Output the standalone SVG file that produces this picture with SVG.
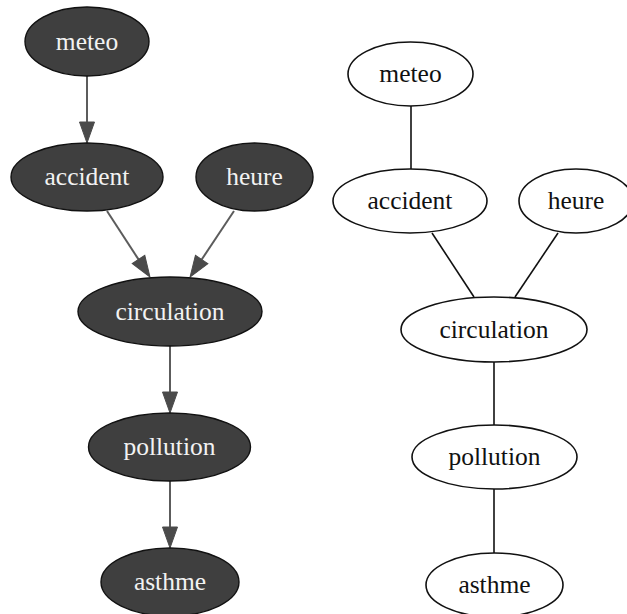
<svg xmlns="http://www.w3.org/2000/svg" width="627" height="614" viewBox="0 0 627 614">
  <style>
    text { font-family: "Liberation Serif", "Times New Roman", serif; font-size: 25.5px; text-anchor: middle; }
    .dark ellipse { fill: #3f3f3f; stroke: #111; stroke-width: 1.4; }
    .dark text { fill: #f2f2f2; }
    .light ellipse { fill: #fff; stroke: #111; stroke-width: 1.6; }
    .light text { fill: #111; }
    .arc { stroke: #5c5c5c; stroke-width: 2; fill: none; }
    .link { stroke: #111; stroke-width: 1.6; fill: none; }
  </style>
  <defs>
    <marker id="head" markerUnits="userSpaceOnUse" markerWidth="22" markerHeight="16" refX="0" refY="7.5" orient="auto" overflow="visible">
      <path d="M0,0 L21,7.5 L0,15 z" fill="#4a4a4a" stroke="#4a4a4a" stroke-width="1"/>
    </marker>
  </defs>
  <rect width="627" height="614" fill="#fff"/>

  <!-- directed graph: connectors -->
  <g id="directed-edges">
    <line class="arc" x1="87" y1="76" x2="87" y2="122" marker-end="url(#head)"/>
    <line class="arc" x1="107" y1="211" x2="138.5" y2="259.4" marker-end="url(#head)"/>
    <line class="arc" x1="234" y1="211" x2="201.7" y2="259.5" marker-end="url(#head)"/>
    <line class="arc" x1="170" y1="346" x2="170" y2="392" marker-end="url(#head)"/>
    <line class="arc" x1="170" y1="481" x2="170" y2="527" marker-end="url(#head)"/>
  </g>

  <!-- directed graph: nodes -->
  <g id="d-meteo" class="dark"><ellipse cx="87" cy="41.5" rx="62" ry="34.5"/><text x="87" y="50">meteo</text></g>
  <g id="d-accident" class="dark"><ellipse cx="87" cy="177" rx="76" ry="34"/><text x="87" y="185">accident</text></g>
  <g id="d-heure" class="dark"><ellipse cx="254.5" cy="177" rx="58.5" ry="34"/><text x="254.5" y="185">heure</text></g>
  <g id="d-circulation" class="dark"><ellipse cx="170" cy="311.5" rx="92" ry="34.5"/><text x="170" y="320">circulation</text></g>
  <g id="d-pollution" class="dark"><ellipse cx="169.5" cy="447" rx="81" ry="34"/><text x="169.5" y="455">pollution</text></g>
  <g id="d-asthme" class="dark"><ellipse cx="170" cy="582" rx="69" ry="34"/><text x="170" y="590">asthme</text></g>

  <!-- undirected graph: connectors -->
  <g id="undirected-edges">
    <line class="link" x1="411" y1="106" x2="411" y2="169"/>
    <line class="link" x1="432" y1="233" x2="474" y2="297"/>
    <line class="link" x1="558" y1="233" x2="515" y2="297"/>
    <line class="link" x1="494" y1="362" x2="494" y2="425"/>
    <line class="link" x1="494" y1="489" x2="494" y2="553"/>
  </g>

  <!-- undirected graph: nodes -->
  <g id="u-meteo" class="light"><ellipse cx="410.5" cy="74" rx="62.5" ry="32"/><text x="410.5" y="82">meteo</text></g>
  <g id="u-accident" class="light"><ellipse cx="410" cy="201" rx="77" ry="32"/><text x="410" y="209">accident</text></g>
  <g id="u-heure" class="light"><ellipse cx="576" cy="201" rx="57" ry="32"/><text x="576" y="209">heure</text></g>
  <g id="u-circulation" class="light"><ellipse cx="494" cy="329.5" rx="93" ry="32.5"/><text x="494" y="338">circulation</text></g>
  <g id="u-pollution" class="light"><ellipse cx="494.5" cy="457" rx="82.5" ry="32"/><text x="494.5" y="465">pollution</text></g>
  <g id="u-asthme" class="light"><ellipse cx="494.5" cy="585" rx="68.5" ry="32"/><text x="494.5" y="593">asthme</text></g>
</svg>
